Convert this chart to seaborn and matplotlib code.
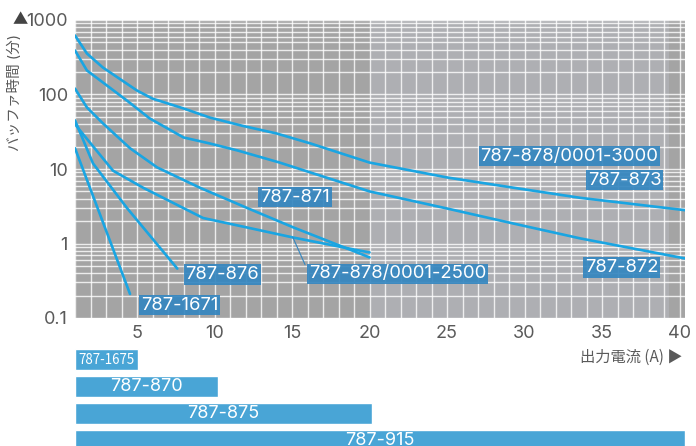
import numpy as np
import pandas as pd
import seaborn as sns
import matplotlib.pyplot as plt
from matplotlib.ticker import MultipleLocator, FixedLocator, LogLocator, NullFormatter

# buffer time curves (current A -> minutes)
a_873 = [1, 1.77, 2.8, 5, 6, 8, 9.7, 11.8, 14, 16.2, 20, 25, 29.3, 33.6, 40.35]
t_873 = [620, 355, 230, 113, 88, 65, 49, 38, 30, 22, 12.2, 7.7, 5.6, 4.1, 2.8]
a_872 = [1, 1.77, 2.8, 4.35, 5.8, 8, 9.7, 11.5, 14.2, 20, 25, 29.3, 33.6, 40.35]
t_872 = [390, 210, 145, 83, 48, 26.5, 22, 17.7, 12.2, 5.0, 2.95, 1.85, 1.17, 0.63]
a_871 = [1, 1.77, 2.8, 4.55, 6.3, 9.06, 12.1, 15.1, 19.4, 20]
t_871 = [120, 67, 41, 19, 10.5, 5.6, 3.0, 1.64, 0.73, 0.65]
a_2500 = [1, 1.32, 3.45, 5.4, 9.26, 12.1, 15.1, 19.4, 20]
t_2500 = [40, 33, 9.5, 5.6, 2.2, 1.64, 1.2, 0.8, 0.76]
a_876 = [1, 2.16, 4.35, 7.6]
t_876 = [45, 11.9, 3.0, 0.46]
a_1671 = [1, 4.55]
t_1671 = [19, 0.21]

curve_names = ['873', '872', '871', '2500', '876', '1671']
curve_x = [a_873, a_872, a_871, a_2500, a_876, a_1671]
curve_y = [t_873, t_872, t_871, t_2500, t_876, t_1671]

# label boxes: text, position
labels = ['787-878/0001-3000', '787-873', '787-871', '787-876',
          '787-878/0001-2500', '787-872', '787-1671']
label_x = [32.9, 36.45, 15.2, 10.5, 21.8, 36.26, 7.74]
label_y = [14.9, 7.1, 4.2, 0.384, 0.39, 0.476, 0.149]

# range bars below the chart
bar_names = ['787-1675', '787-870', '787-875', '787-915']
bar_start = [1, 1, 1, 1]
bar_end = [5.05, 10.2, 20.15, 40.35]

line_col = '#1aa5e2'
box_col = '#3486c0'
bar_col = '#49a5d6'
txt_col = '#5a5a5a'

sns.set_style('white')
plt.rcParams['font.family'] = ['Inter', 'Noto Sans CJK JP', 'DejaVu Sans']

rows = []
for n, xs, ys in zip(curve_names, curve_x, curve_y):
    for xv, yv in zip(xs, ys):
        rows.append({'model': n, 'A': xv, 't': yv})
df = pd.DataFrame(rows)

fig = plt.figure(figsize=(6.96, 4.46), dpi=100)
ax = fig.add_axes([75 / 696, (446 - 318) / 446, 610 / 696, 298 / 446])
ax2 = fig.add_axes([75 / 696, 0, 610 / 696, 97 / 446])

ax.set_facecolor('#a4a4a4')
ax.axvspan(20, 39.3, color='#aeafb3', lw=0, zorder=0)

sns.lineplot(data=df, x='A', y='t', hue='model', sort=False, estimator=None,
             palette={n: line_col for n in curve_names}, legend=False,
             linewidth=1.9, ax=ax, zorder=3)

ax.set_yscale('log')
ax.set_xlim(1, 40.35)
ax.set_ylim(0.1, 1000)
ax.xaxis.set_major_locator(FixedLocator([5, 10, 15, 20, 25, 30, 35, 40]))
ax.xaxis.set_minor_locator(MultipleLocator(1))
ax.yaxis.set_major_locator(FixedLocator([0.1, 1, 10, 100, 1000]))
ax.yaxis.set_minor_locator(LogLocator(base=10, subs=np.arange(2, 10)))
ax.yaxis.set_minor_formatter(NullFormatter())
ax.set_yticklabels(['0.1', '1', '10', '100', '1000'])
ax.set_xticklabels([str(v) for v in [5, 10, 15, 20, 25, 30, 35, 40]])
ax.grid(which='both', color='white', alpha=0.8, linewidth=1.0)
ax.set_axisbelow(True)
ax.tick_params(which='both', length=0, labelsize=13, labelcolor=txt_col, pad=5)
for s in ax.spines.values():
    s.set_visible(False)
ax.set_xlabel('')
ax.set_ylabel('')

for lab, lx, ly in zip(labels, label_x, label_y):
    ax.text(lx, ly, lab, ha='center', va='center', color='white', fontsize=13.3,
            zorder=5, bbox=dict(boxstyle='square,pad=0.1', fc=box_col, ec='none', alpha=0.92))
ax.plot([15.06, 15.84], [1.2, 0.52], color=box_col, lw=0.8, zorder=4)

fig.text(15 / 696, 1 - 92 / 446, 'バッファ時間 (分)', rotation=90, ha='center', va='center',
         fontsize=10.5, color=txt_col)
fig.text(20 / 696, 1 - 20 / 446, '▲', ha='center', va='center', fontsize=11, color='#444444',
         family=['Noto Sans CJK JP', 'DejaVu Sans'])
fig.text(683 / 696, 1 - 357 / 446, '出力電流 (A) ▶', ha='right', va='center',
         fontsize=11, color=txt_col, family=['Noto Sans CJK JP', 'DejaVu Sans'])

# range bars
for i, (nm, b0, b1) in enumerate(zip(bar_names, bar_start, bar_end)):
    ax2.barh(i, b1 - b0, left=b0, height=21 / 27, color=bar_col)
    if i == 0:
        ax2.text(b0 + 0.2, i, nm, ha='left', va='center', color='white', fontsize=9.6,
                 family=['Noto Sans CJK JP', 'DejaVu Sans'])
    else:
        ax2.text((b0 + b1) / 2, i, nm, ha='center', va='center', color='white', fontsize=13)
ax2.set_xlim(1, 40.35)
ax2.set_ylim((97 - 10.5) / 27, -10.5 / 27)
ax2.axis('off')

fig.savefig('out.png', dpi=100)
